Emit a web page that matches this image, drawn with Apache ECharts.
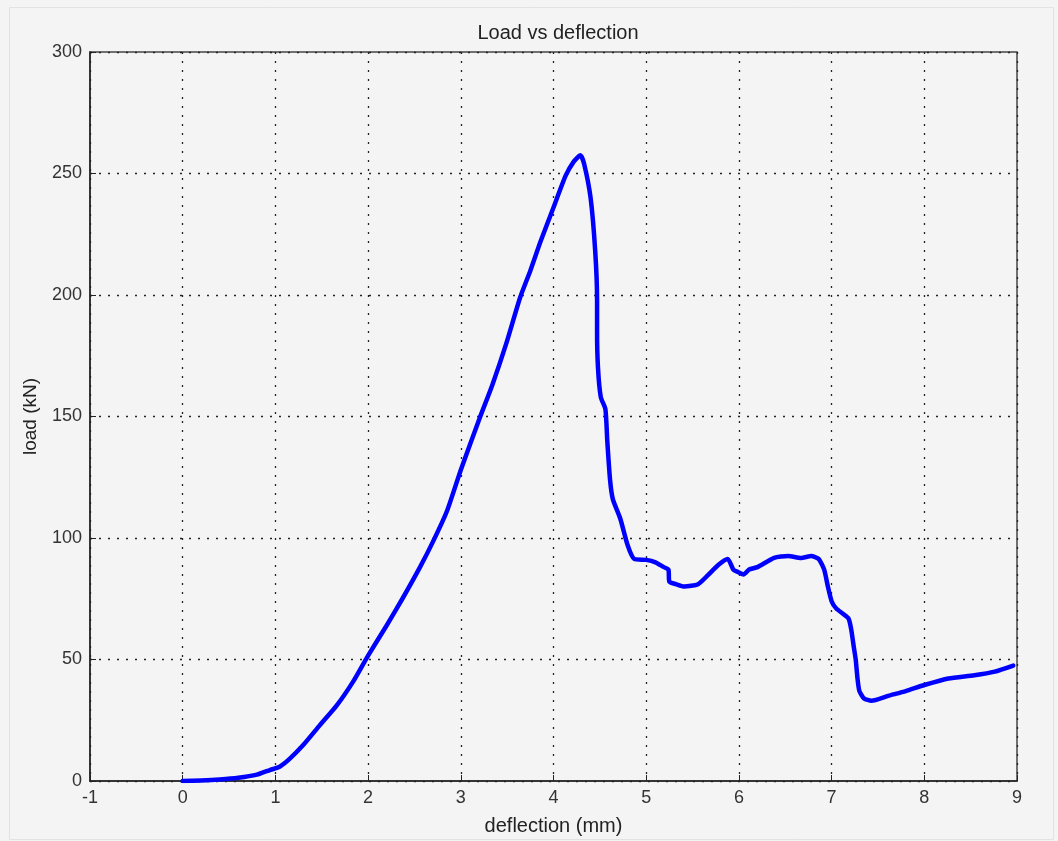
<!DOCTYPE html>
<html>
<head>
<meta charset="utf-8">
<script src="https://cdn.jsdelivr.net/npm/echarts@6/dist/echarts.min.js"></script>
<style>
  html, body { margin: 0; padding: 0; background: #ffffff; }
  #chart { width: 1058px; height: 841px; }
</style>
</head>
<body>
<div id="chart"></div>
<script>
const titleText = 'Load vs deflection';
const xName = 'deflection (mm)';
const yName = 'load (kN)';

const deflection = [0, 0.2, 0.4, 0.6, 0.8, 0.94, 1.05, 1.15, 1.3, 1.48, 1.66, 1.84, 2.0, 2.2, 2.37, 2.56, 2.7, 2.85, 3.0, 3.2, 3.34, 3.49, 3.64, 3.75, 3.86, 4.0, 4.13, 4.22, 4.29, 4.33, 4.40, 4.45, 4.47, 4.47, 4.48, 4.51, 4.56, 4.58, 4.61, 4.64, 4.72, 4.80, 4.87, 5.0, 5.1, 5.19, 5.24, 5.25, 5.32, 5.41, 5.56, 5.66, 5.78, 5.88, 5.94, 5.99, 6.05, 6.11, 6.2, 6.38, 6.53, 6.67, 6.78, 6.86, 6.92, 6.96, 7.0, 7.05, 7.18, 7.21, 7.24, 7.26, 7.28, 7.30, 7.35, 7.43, 7.61, 7.8, 8.0, 8.26, 8.54, 8.76, 8.96];
const load = [0, 0.2, 0.6, 1.3, 2.6, 4.5, 6, 9, 14.8, 23, 31, 41, 51.6, 64, 75, 88, 98.5, 111, 128, 149, 163, 180, 199, 210, 222, 236, 249, 255, 257.5, 254, 240, 218, 198, 185, 170, 158, 153, 140, 124, 116, 108, 97, 91.4, 91, 90, 88, 87, 82, 81, 80, 81, 84.5, 89, 91.4, 87, 86, 85, 87, 88, 91.8, 92.6, 91.8, 92.6, 91.4, 87, 80, 74, 71, 67, 62.7, 55, 50, 42, 37, 34, 33, 35, 37, 39.5, 42.2, 43.5, 45, 47.5];

const xTicks = [-1, 0, 1, 2, 3, 4, 5, 6, 7, 8, 9];
const yTicks = [0, 50, 100, 150, 200, 250, 300];

const chart = echarts.init(document.getElementById('chart'), null, { renderer: 'canvas' });
const font = 'Liberation Sans, Arial, sans-serif';
const option = {
  backgroundColor: '#f4f4f4',
  animation: false,
  graphic: [{
    type: 'rect', left: 7, top: 5, silent: true, z: -1,
    shape: { width: 1044, height: 832 },
    style: { fill: 'none', stroke: '#e2e2e2', lineWidth: 1 }
  }],
  title: {
    text: titleText, left: 553, top: 18, textAlign: 'center',
    textStyle: { fontFamily: font, fontSize: 20, fontWeight: 'normal', color: '#222' }
  },
  grid: {
    left: 90, right: 41, top: 52, bottom: 58,
    show: true, borderColor: '#444', borderWidth: 1.5, backgroundColor: 'transparent'
  },
  xAxis: {
    type: 'value', min: xTicks[0], max: xTicks[xTicks.length - 1], interval: 1,
    name: xName, nameLocation: 'middle', nameGap: 35,
    nameTextStyle: { fontFamily: font, fontSize: 20, color: '#222' },
    axisLine: { show: true, onZero: false, lineStyle: { color: '#222', width: 1.5 } },
    axisTick: { show: true, inside: true, length: 6, lineStyle: { color: '#222' } },
    axisLabel: { fontFamily: font, fontSize: 18, color: '#333', margin: 8 },
    splitLine: { show: true, lineStyle: { color: '#222', type: [2, 7], width: 1.3 } }
  },
  yAxis: {
    type: 'value', min: yTicks[0], max: yTicks[yTicks.length - 1], interval: 50,
    name: yName, nameLocation: 'middle', nameGap: 50, nameRotate: 90,
    nameTextStyle: { fontFamily: font, fontSize: 19, color: '#222' },
    axisLine: { show: true, onZero: false, lineStyle: { color: '#222', width: 1.5 } },
    axisTick: { show: true, inside: true, length: 6, lineStyle: { color: '#222' } },
    axisLabel: { fontFamily: font, fontSize: 18, color: '#333', margin: 8 },
    splitLine: { show: true, lineStyle: { color: '#222', type: [2, 7], width: 1.3 } }
  },
  series: [{
    type: 'line',
    data: deflection.map((x, i) => [x, load[i]]),
    showSymbol: false,
    smooth: 0.2,
    lineStyle: { color: '#0000ff', width: 4.5, join: 'round', cap: 'round' },
    itemStyle: { color: '#0000ff' }
  }]
};
chart.setOption(option);
</script>
</body>
</html>
